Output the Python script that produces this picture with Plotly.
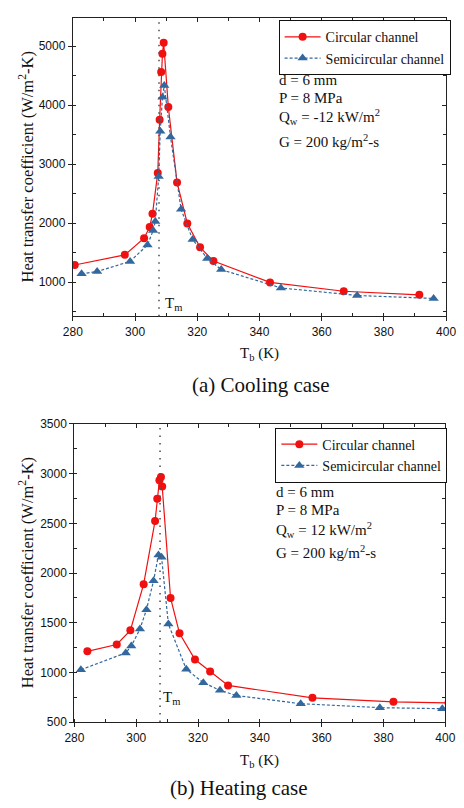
import plotly.graph_objects as go

# ---------------- data ----------------
TM = 307.7

cool_circ_T = [280.6, 296.7, 302.9, 304.7, 305.6, 307.3, 307.9, 308.4, 308.8, 309.2,
               310.7, 313.5, 316.8, 320.9, 325.2, 343.4, 367.1, 391.4]
cool_circ_h = [1289, 1461, 1744, 1933, 2156, 2850, 3750, 4561, 4872, 5056,
               3967, 2689, 1994, 1589, 1356, 994, 844, 783]

cool_semi_T = [282.8, 287.8, 298.4, 304.0, 305.8, 306.5, 307.6, 308.1, 308.8, 309.4,
               311.4, 314.8, 318.5, 323.2, 327.7, 346.9, 371.4, 396.0]
cool_semi_h = [1139, 1178, 1350, 1628, 1872, 2028, 2789, 3556, 4133, 4333,
               3461, 2233, 1722, 1400, 1211, 900, 772, 722]

heat_circ_T = [284.2, 293.7, 298.1, 302.4, 306.1, 306.8, 307.5, 308.0, 308.4, 311.1,
               314.0, 319.0, 323.9, 329.7, 357.0, 383.2, 401.0]
heat_circ_h = [1212, 1281, 1423, 1888, 2524, 2748, 2933, 2966, 2870, 1749,
               1393, 1130, 1008, 869, 744, 704, 693]

heat_semi_T = [282.1, 296.6, 298.4, 301.2, 303.3, 305.6, 307.2, 308.2, 310.4, 316.2,
               321.7, 327.1, 332.4, 353.2, 378.8, 399.0]
heat_semi_h = [1027, 1196, 1265, 1436, 1631, 1921, 2181, 2158, 1486, 1031,
               896, 820, 767, 685, 645, 635]

x_range = [280, 400]
cool_y_range = [420, 5480]
heat_y_range = [500, 3500]

cool_params = ["d = 6 mm", "P = 8 MPa", "Q<sub>w</sub> = -12 kW/m<sup>2</sup>",
               "G = 200 kg/m<sup>2</sup>-s"]
heat_params = ["d = 6 mm", "P = 8 MPa", "Q<sub>w</sub> = 12 kW/m<sup>2</sup>",
               "G = 200 kg/m<sup>2</sup>-s"]

# ---------------- styling ----------------
W, H = 464, 808
RED = "#f01010"
BLUE = "#33689e"
SERIF = "Liberation Serif"
SANS = "Liberation Sans"

def px(xp):
    return xp / W

def py(yp):
    return 1 - yp / H

fig = go.Figure()

def add_series(T, h, xa, ya, name, color, symbol, dash, legend, size):
    fig.add_trace(go.Scatter(
        x=T, y=h, xaxis=xa, yaxis=ya, name=name, mode="lines+markers",
        line=dict(color=color, width=1.2, dash=dash),
        marker=dict(color=color, symbol=symbol, size=size, line=dict(width=0)),
        legend=legend, showlegend=True))

add_series(cool_circ_T, cool_circ_h, "x", "y", "Circular channel", RED, "circle", "solid", "legend", 8)
add_series(cool_semi_T, cool_semi_h, "x", "y", "Semicircular channel", BLUE, "triangle-up", "3px,2px", "legend", 9)
add_series(heat_circ_T, heat_circ_h, "x2", "y2", "Circular channel", RED, "circle", "solid", "legend2", 8)
add_series(heat_semi_T, heat_semi_h, "x2", "y2", "Semicircular channel", BLUE, "triangle-up", "3px,2px", "legend2", 9)

# plot area geometry (pixels)
top_box = dict(l=65.7, r=455.7, t=11, b=314.7)
bot_box = dict(l=67.3, r=455.0, t=424.3, b=727.7)

tickfont = dict(family=SANS, size=12, color="#111")

def main_x(box, anchor):
    return dict(domain=[px(box["l"]), px(box["r"])], anchor=anchor, range=x_range,
                tick0=280, dtick=20, ticks="outside", ticklen=4, tickwidth=1,
                tickcolor="#222", showline=True, linecolor="#222", linewidth=1.2,
                mirror=True, showgrid=False, zeroline=False, tickfont=tickfont,
                ticklabeloverflow="allow",
                minor=dict(dtick=10, ticks="inside", ticklen=3, tickcolor="#222"))

def main_y(box, anchor, rng, dtick, mdtick, tick0):
    return dict(domain=[py(box["b"]), py(box["t"])], anchor=anchor, range=rng,
                tick0=tick0, dtick=dtick, ticks="outside", ticklen=4, tickwidth=1,
                tickcolor="#222", showline=True, linecolor="#222", linewidth=1.2,
                mirror=True, showgrid=False, zeroline=False, tickfont=tickfont,
                ticklabeloverflow="allow",
                minor=dict(dtick=mdtick, ticks="inside", ticklen=3, tickcolor="#222"))

def over_x(box, over, anchor):
    return dict(domain=[px(box["l"]), px(box["r"])], overlaying=over, anchor=anchor,
                side="top", range=x_range, tick0=280, dtick=20, ticks="inside",
                ticklen=4, tickcolor="#222", showticklabels=False, showgrid=False,
                zeroline=False, showline=False,
                minor=dict(dtick=10, ticks="inside", ticklen=3, tickcolor="#222"))

def over_y(box, over, anchor, rng, dtick, mdtick, tick0):
    return dict(domain=[py(box["b"]), py(box["t"])], overlaying=over, anchor=anchor,
                side="right", range=rng, tick0=tick0, dtick=dtick, ticks="inside",
                ticklen=4, tickcolor="#222", showticklabels=False, showgrid=False,
                zeroline=False, showline=False,
                minor=dict(dtick=mdtick, ticks="inside", ticklen=3, tickcolor="#222"))

fig.update_layout(
    xaxis=main_x(top_box, "y"),
    yaxis=main_y(top_box, "x", cool_y_range, 1000, 500, 1000),
    xaxis2=main_x(bot_box, "y2"),
    yaxis2=main_y(bot_box, "x2", heat_y_range, 500, 250, 500),
    xaxis3=over_x(top_box, "x", "y"),
    yaxis3=over_y(top_box, "y", "x", cool_y_range, 1000, 500, 1000),
    xaxis4=over_x(bot_box, "x2", "y2"),
    yaxis4=over_y(bot_box, "y2", "x2", heat_y_range, 500, 250, 500),
)

# invisible traces to make overlay axes render
fig.add_trace(go.Scatter(x=[x_range[0]], y=[cool_y_range[0]], xaxis="x3", yaxis="y3",
                         mode="markers", marker=dict(opacity=0), showlegend=False, hoverinfo="skip"))
fig.add_trace(go.Scatter(x=[x_range[0]], y=[heat_y_range[0]], xaxis="x4", yaxis="y4",
                         mode="markers", marker=dict(opacity=0), showlegend=False, hoverinfo="skip"))

# Tm dotted lines
for xr, yr in (("x", "y domain"), ("x2", "y2 domain")):
    fig.add_shape(type="line", xref=xr, yref=yr, x0=TM, x1=TM, y0=0, y1=1,
                  line=dict(color="#555", width=1.6, dash="1.5px,6px"))

legend_style = dict(font=dict(family=SERIF, size=14, color="#111"),
                    bgcolor="white", bordercolor="#111", borderwidth=1,
                    xanchor="left", yanchor="top", tracegroupgap=0, itemwidth=36)

fig.update_layout(
    width=W, height=H, margin=dict(l=0, r=0, t=0, b=0),
    paper_bgcolor="white", plot_bgcolor="white",
    legend=dict(x=px(280.7), y=py(13.5), **legend_style),
    legend2=dict(x=px(277.3), y=py(428), **legend_style),
)

ann = []
def text(x, y, t, size=14, xanchor="left", angle=0, family=SERIF):
    ann.append(dict(xref="paper", yref="paper", x=px(x), y=py(y), text=t,
                    showarrow=False, xanchor=xanchor, yanchor="middle",
                    textangle=angle, font=dict(family=family, size=size, color="#111")))

for i, (yy) in enumerate([74, 92.5, 112, 136]):
    text(279, yy, cool_params[i], 15)
for i, (yy) in enumerate([493.3, 512.3, 532.3, 555]):
    text(276, yy, heat_params[i], 15)

# Tm labels
text(160, 302, "T<sub>m</sub>", 15)
text(158, 703, "T<sub>m</sub>", 15)

# axis titles
ytitle = "Heat transfer coefficient (W/m<sup>2</sup>-K)"
text(17, 163, ytitle, 16.5, xanchor="center", angle=-90)
text(17, 576, ytitle, 16.5, xanchor="center", angle=-90)
text(260.5, 353, "T<sub>b</sub> (K)", 15, xanchor="center")
text(261, 767, "T<sub>b</sub> (K)", 15, xanchor="center")

# captions
text(262, 385, "(a) Cooling case", 21, xanchor="center")
text(239, 795, "(b) Heating case", 21, xanchor="center")

fig.update_layout(annotations=ann)

fig.write_html("out.html")
